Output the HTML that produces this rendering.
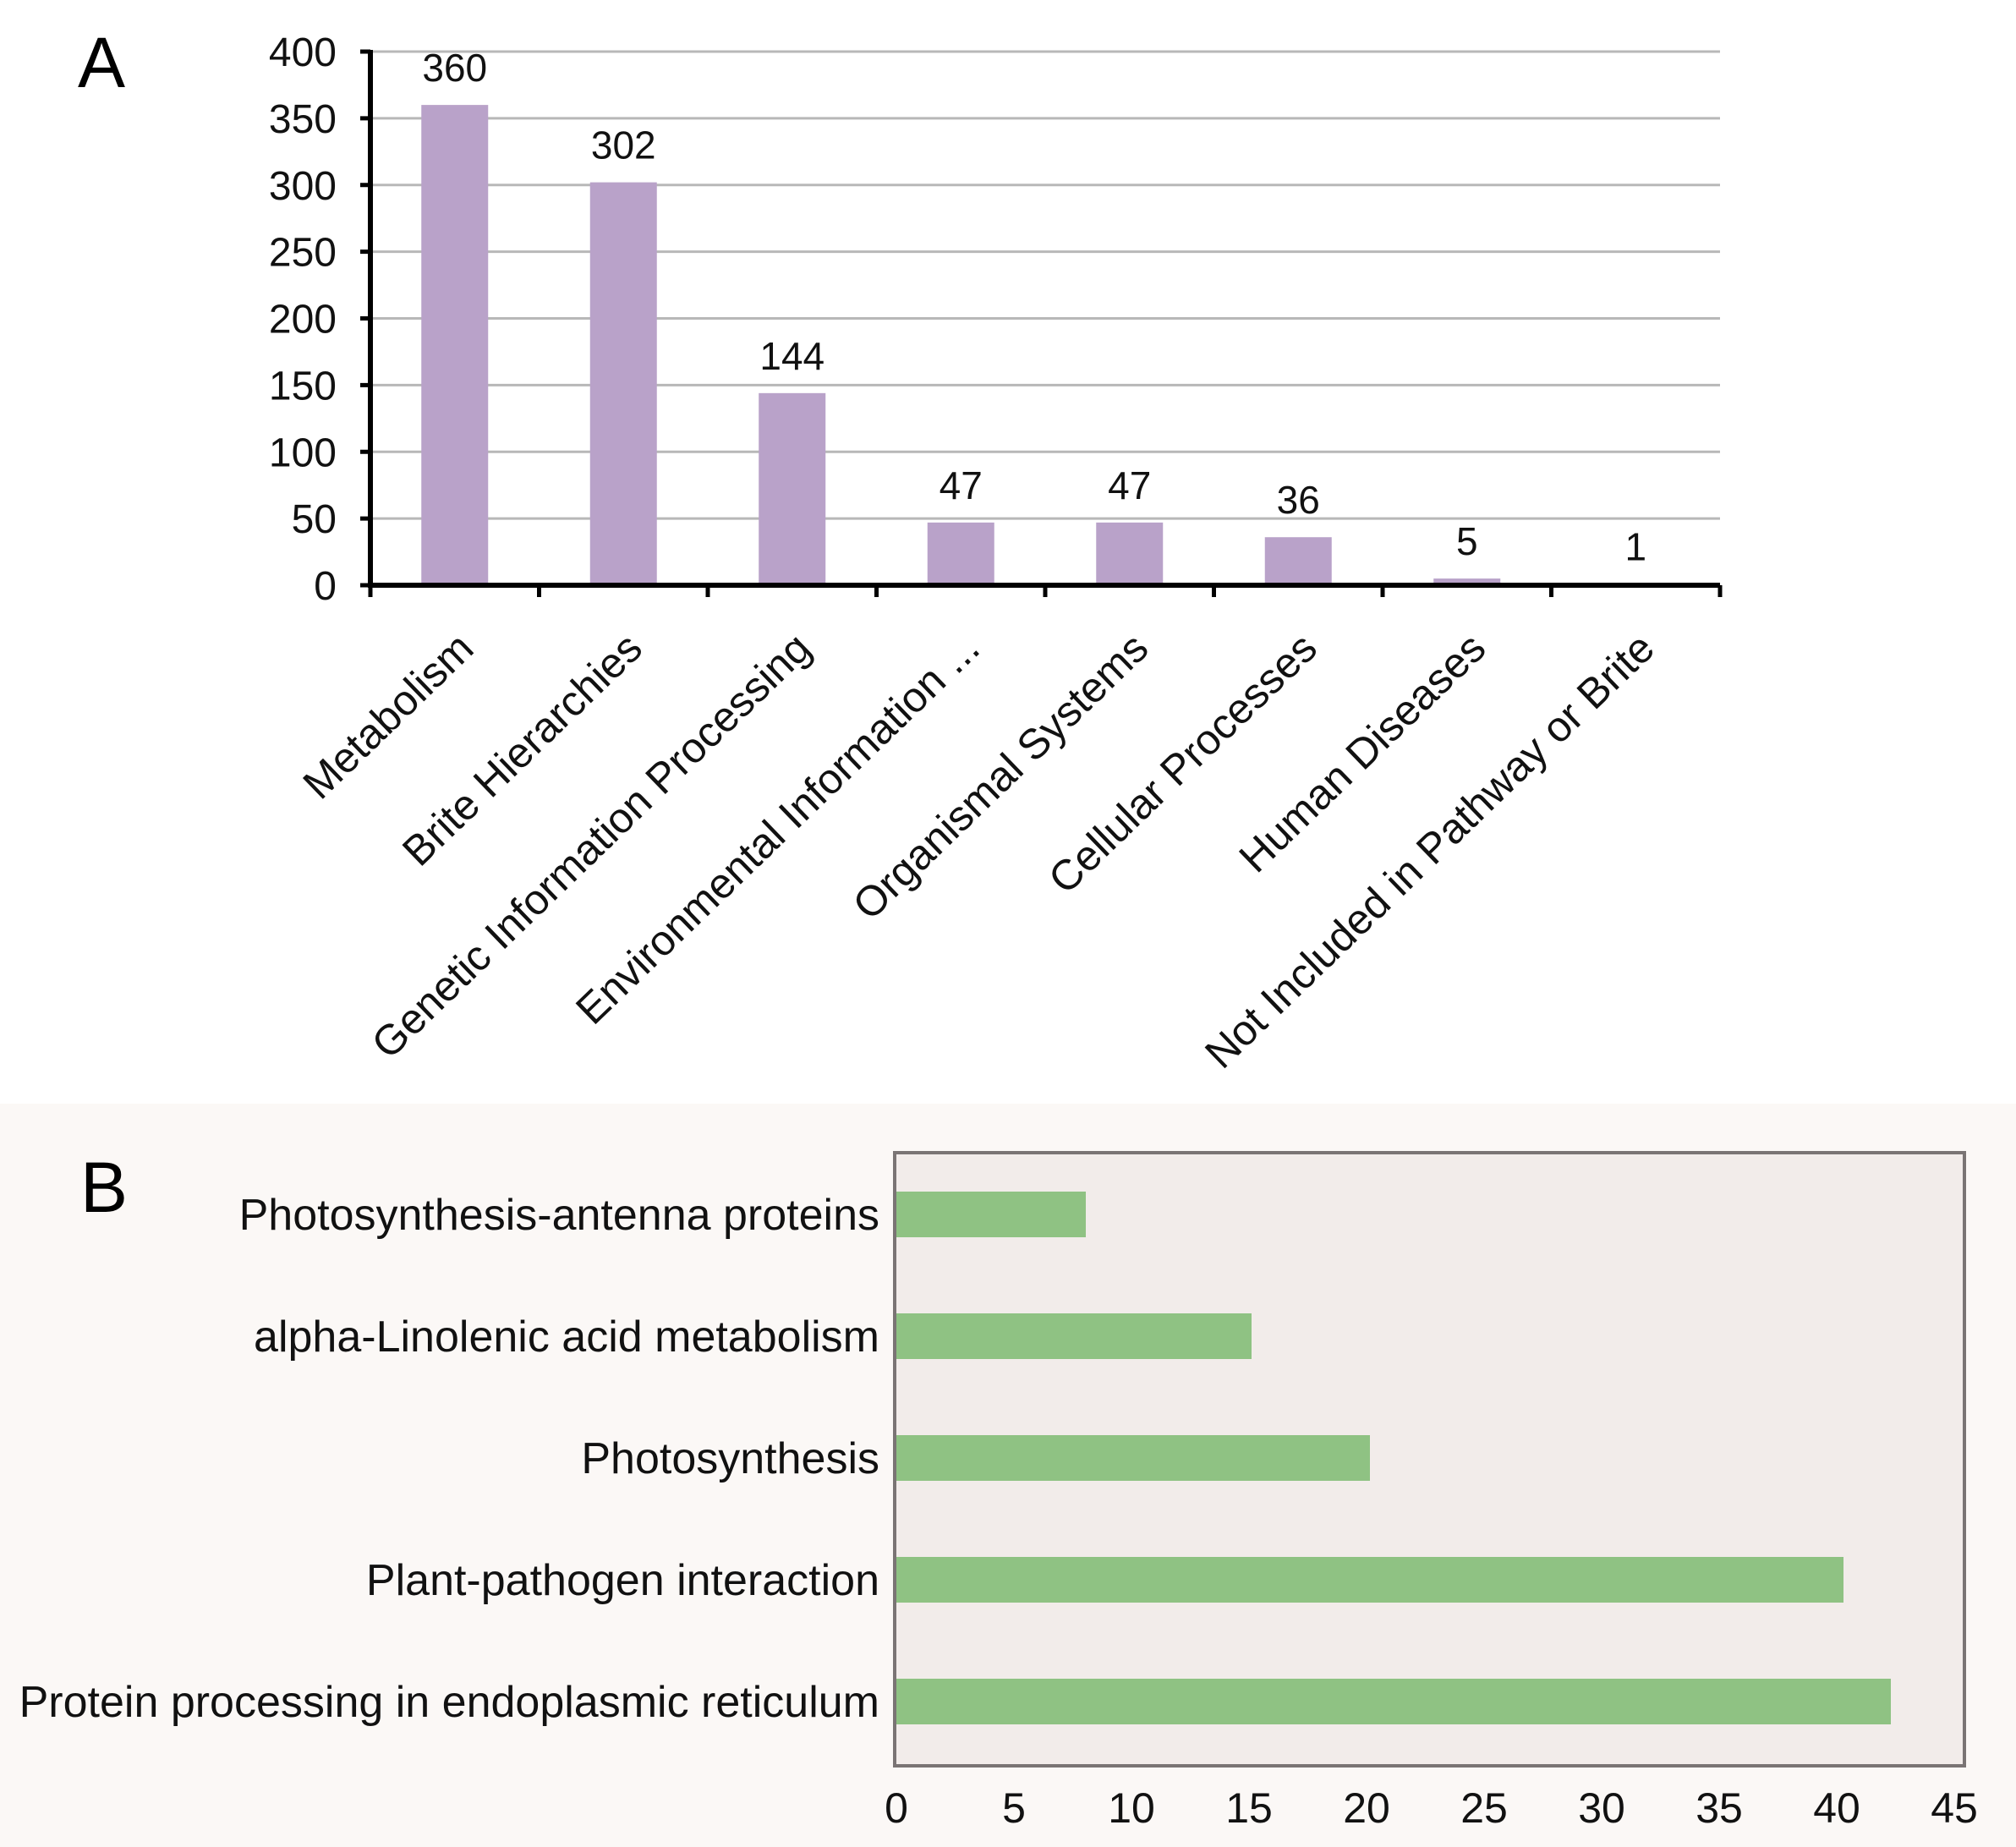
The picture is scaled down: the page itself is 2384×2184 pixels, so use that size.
<!DOCTYPE html>
<html><head><meta charset="utf-8"><style>
html,body{margin:0;padding:0;background:#fff}
svg{display:block;font-family:"Liberation Sans",Arial,sans-serif}
</style></head><body>
<svg id="fig" width="2384" height="2184" viewBox="0 0 2384 2184" xmlns="http://www.w3.org/2000/svg">
<rect x="0" y="1305" width="2384" height="879" fill="#fbf8f6"/>
<text x="92" y="103" font-size="84" fill="#000">A</text>
<text x="95" y="1433" font-size="84" fill="#000">B</text>
<g id="chartA"></g>
<g id="chartB"></g>
</svg>
<script>
const catsA = ["Metabolism","Brite Hierarchies","Genetic Information Processing","Environmental Information ...","Organismal Systems","Cellular Processes","Human Diseases","Not Included in Pathway or Brite"];
const valsA = [360,302,144,47,47,36,5,1];
const ticksA = [0,50,100,150,200,250,300,350,400];
const catsB = ["Photosynthesis-antenna proteins","alpha-Linolenic acid metabolism","Photosynthesis","Plant-pathogen interaction","Protein processing in endoplasmic reticulum"];
const valsB = [8,15,20,40,42];
const ticksB = [0,5,10,15,20,25,30,35,40,45];

const NS="http://www.w3.org/2000/svg";
function mk(tag,attrs,parent,txt){const e=document.createElementNS(NS,tag);for(const k in attrs)e.setAttribute(k,attrs[k]);if(txt!==undefined)e.textContent=txt;parent.appendChild(e);return e;}

// Panel A
const gA=document.getElementById('chartA');
const ax0=438, ax1=2034, ay0=692, ay1=61, yMax=400;
const yA=v=>ay0-(v/yMax)*(ay0-ay1);
const bandA=(ax1-ax0)/catsA.length;
const xA=i=>ax0+bandA*(i+0.5);
ticksA.forEach(t=>{
  if(t>0){const l=mk('line',{x1:ax0,x2:ax1,y1:yA(t),y2:yA(t),stroke:'#b8b8b8','stroke-width':3},gA);
  
  }
  const tk=mk('line',{x1:ax0-12,x2:ax0,y1:yA(t),y2:yA(t),stroke:'#000','stroke-width':5},gA);
  
  
  const tl=mk('text',{x:398,y:yA(t)+17,'text-anchor':'end','font-size':48,fill:'#111'},gA,String(t));
  
  
});
valsA.forEach((v,i)=>{
  const bw=79;
  const b=mk('rect',{x:xA(i)-bw/2,y:yA(v),width:bw,height:ay0-yA(v),fill:'#b9a2c9'},gA);
  
  
  const vl=mk('text',{x:xA(i),y:yA(v)-28,'text-anchor':'middle','font-size':46,fill:'#111'},gA,String(v));
  
  
  const cx=xA(i)+25, cy=770;
  const cl=mk('text',{x:cx,y:cy,'text-anchor':'end','font-size':50,fill:'#111',transform:'rotate(-44 '+cx+' '+cy+')'},gA,catsA[i]);
  
  
});
for(let i=0;i<=catsA.length;i++){
  const x=ax0+bandA*i;
  const t=mk('line',{x1:x,x2:x,y1:ay0,y2:ay0+14,stroke:'#000','stroke-width':5},gA);
  
  
}
const yaxis=mk('line',{x1:ax0,x2:ax0,y1:ay1-2,y2:ay0+3,stroke:'#000','stroke-width':6},gA);


const xaxis=mk('line',{x1:ax0-3,x2:ax1,y1:ay0,y2:ay0,stroke:'#000','stroke-width':6},gA);



// Panel B
const gB=document.getElementById('chartB');
const bx0=1060, bxR=2323, by0=1363, by1=2088, unit=28;
const xB=v=>bx0+v*unit;
const bandB=144, firstB=1436;
const yB=i=>firstB+i*bandB;
const box=mk('rect',{x:1058,y:by0,width:bxR-1058,height:by1-by0,fill:'#f2ecea',stroke:'#7a7474','stroke-width':4},gB);


valsB.forEach((v,i)=>{
  const bh=54;
  const b=mk('rect',{x:bx0,y:yB(i)-bh/2,width:xB(v)-bx0,height:bh,fill:'#8fc283'},gB);
  
  
  const l=mk('text',{x:1040,y:yB(i)+18,'text-anchor':'end','font-size':52,fill:'#111'},gB,catsB[i]);
  
  
});
ticksB.forEach(t=>{
  const tl=mk('text',{x:bx0+t*27.8,y:2155,'text-anchor':'middle','font-size':50,fill:'#111'},gB,String(t));
  
  
});
</script>
</body></html>
